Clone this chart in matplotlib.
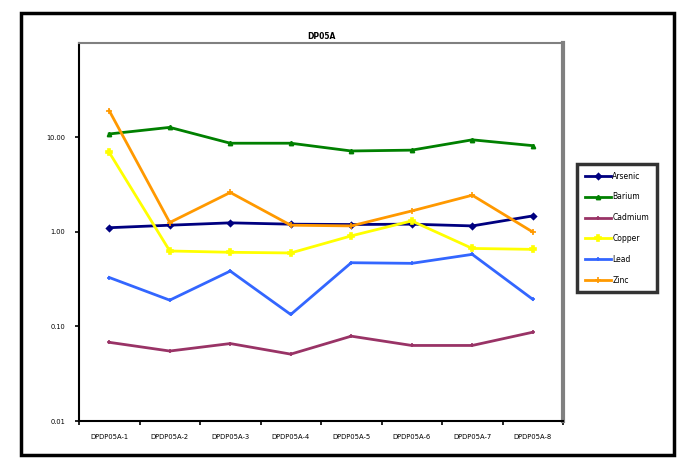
import numpy as np
import matplotlib.pyplot as plt
from matplotlib.patches import Rectangle

# sample ids along the x axis
samples = ["DPDP05A-1", "DPDP05A-2", "DPDP05A-3", "DPDP05A-4",
           "DPDP05A-5", "DPDP05A-6", "DPDP05A-7", "DPDP05A-8"]

arsenic = [1.11, 1.18, 1.25, 1.21, 1.20, 1.21, 1.16, 1.48]
barium = [10.9, 12.8, 8.7, 8.7, 7.2, 7.35, 9.45, 8.2]
cadmium = [0.068, 0.055, 0.066, 0.051, 0.079, 0.063, 0.063, 0.087]
copper = [6.95, 0.63, 0.61, 0.60, 0.91, 1.31, 0.67, 0.655]
lead = [0.33, 0.19, 0.386, 0.134, 0.473, 0.466, 0.58, 0.194]
zinc = [19.2, 1.26, 2.62, 1.18, 1.16, 1.67, 2.45, 1.0]

series = [
    ("Arsenic", arsenic, "#000080", "D", 3),
    ("Barium", barium, "#008000", "^", 3),
    ("Cadmium", cadmium, "#993366", "+", 3),
    ("Copper", copper, "#FFFF00", "P", 5),
    ("Lead", lead, "#3366FF", "+", 3),
    ("Zinc", zinc, "#FF9900", "+", 4),
]

fig = plt.figure(figsize=(6.79, 4.61), dpi=100)

# outer chart frame
fig.patches.append(Rectangle((21 / 679, 1 - 455 / 461), 653 / 679, 442 / 461,
                             transform=fig.transFigure, fill=False,
                             edgecolor="black", linewidth=2.5))

ax = fig.add_axes([79 / 679, 1 - 421 / 461, 484 / 679, 378 / 461])
x = np.arange(len(samples))
for name, vals, col, mk, ms in series:
    ax.plot(x, vals, color=col, marker=mk, markersize=ms, linewidth=2,
            label=name, markeredgewidth=1.2)

ax.set_yscale("log")
ax.set_ylim(0.01, 100)
ax.set_xlim(-0.5, len(samples) - 0.5)
ax.set_yticks([0.01, 0.1, 1, 10])
ax.set_yticklabels(["0.01", "0.10", "1.00", "10.00"], fontsize=4.8)
ax.minorticks_off()
ax.set_xticks(x)
ax.set_xticklabels(samples, fontsize=4.9)
ax.set_xticks(np.arange(-0.5, len(samples)), minor=True)
ax.tick_params(axis="x", which="major", length=0, pad=9)
ax.tick_params(axis="x", which="minor", length=3, width=1.2, direction="out")
ax.tick_params(axis="y", length=3, width=1.2, direction="out", pad=7)

for s in ["left", "bottom"]:
    ax.spines[s].set_color("black")
    ax.spines[s].set_linewidth(1.5)
for s in ["top", "right"]:
    ax.spines[s].set_color("#808080")
    ax.spines[s].set_linewidth(1.5)
ax.spines["right"].set_linewidth(3)

ax.set_title("DP05A", fontsize=5.5, fontweight="bold", pad=3)

leg = fig.legend(loc="upper left", bbox_to_anchor=(577 / 679, 1 - 164 / 461),
                 fontsize=5.5, frameon=True, fancybox=False,
                 handlelength=3.5, labelspacing=1.55, borderpad=1.0,
                 handletextpad=0.1, borderaxespad=0)
leg.get_frame().set_edgecolor("black")
leg.get_frame().set_linewidth(2.5)

fig.savefig("out.png", dpi=100)
